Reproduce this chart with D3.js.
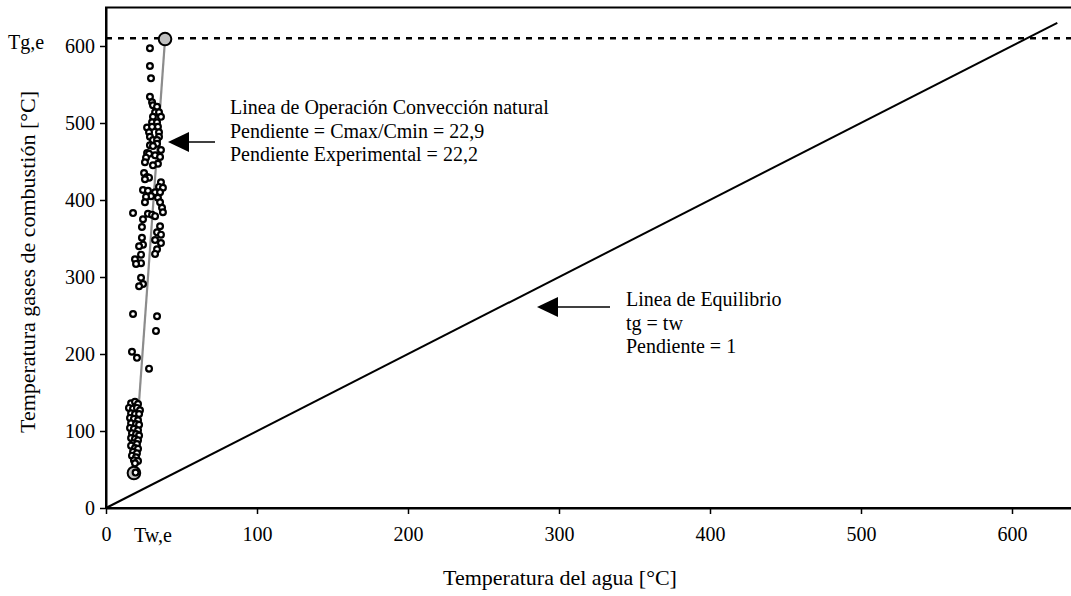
<!DOCTYPE html>
<html><head><meta charset="utf-8">
<script src="https://cdn.jsdelivr.net/npm/d3@7"></script>
<style>
body{margin:0;background:#fff;}
svg{display:block;}
svg text{font-family:"Liberation Serif","Times New Roman",serif !important;fill:#000;}
</style></head>
<body><svg id="c" width="1071" height="596"></svg>
<script>
// ---- data ----
const xTicks = [0,100,200,300,400,500,600];
const yTicks = [0,100,200,300,400,500,600];
const xTitle = "Temperatura del agua [°C]";
const yTitle = "Temperatura gases de combustión [°C]";
// measured points (tw, tg)
const measuredTw = [29.1,29.1,29.8,29.1,30.5,31.1,33.8,32.5,35.1,36.4,31.1,30.5,33.8,34.4,27.2,30.5,28.5,35.1,29.1,35.1,31.1,33.8,29.1,33.8,31.1,36.4,27.2,28.5,32.5,35.8,26.5,25.8,34.4,31.1,25.2,27.2,28.5,25.8,36.4,35.1,37.7,24.5,27.8,32.5,35.8,29.8,26.5,34.4,25.8,35.8,37.1,37.7,17.9,27.8,30.5,32.5,24.5,23.8,35.8,33.8,36.4,23.8,32.5,24.5,21.9,36.4,33.8,32.5,23.2,19.2,23.2,19.9,23.2,24.5,21.9,17.9,33.8,33.1,17.2,20.5,28.5,
16.6,19.2,21.2,15.2,17.9,20.5,22.5,16.6,19.2,21.9,15.9,18.5,21.2,16.6,19.9,21.9,15.9,18.5,21.2,17.2,19.9,21.9,16.6,19.2,21.2,17.9,20.5,16.6,19.2,21.2,17.9,20.5,17.2,19.9,18.5,21.2,19.2,19.6];
const measuredTg = [597,574,558,534,527,523,521,514,514,508,508,501,501,495,494,495,488,488,482,482,478,478,471,473,470,465,461,460,458,456,455,449,447,445,435,430,429,427,423,417,416,413,412,410,410,405,404,403,397,397,390,384,383,382,381,379,375,365,366,358,355,351,348,342,340,344,336,330,329,323,318,317,299,291,288,252,249,230,203,195,181,
136,138,135,130,129,130,127,123,122,122,117,116,114,110,109,108,104,103,101,97,96,94,91,90,88,84,83,81,78,77,73,71,68,66,62,61,58,46];
// operation line end points (tw, tg)
const opTw = [18.5, 39.1];
const opTg = [45.5, 609];
// equilibrium line
const eqTw = [0, 630];
const eqTg = [0, 630];
const tgeValue = 610;
const annotOp = ["Linea de Operación Convección natural","Pendiente = Cmax/Cmin = 22,9","Pendiente Experimental = 22,2"];
const annotEq = ["Linea de Equilibrio","tg = tw","Pendiente = 1"];

// ---- chart ----
const svg = d3.select("#c");
const x = d3.scaleLinear().domain([0,650]).range([106,1087.5]);
const y = d3.scaleLinear().domain([0,650]).range([508,7.5]);
const fs = 20;
const fsTitle = 22;

// frame
svg.append("rect").attr("x",x(0)).attr("y",y(650)).attr("width",x(650)-x(0)).attr("height",y(0)-y(650))
  .attr("fill","none").attr("stroke","#000").attr("stroke-width",2);

// axes
const ax = svg.append("g").attr("transform",`translate(0,${y(0)})`)
  .call(d3.axisBottom(x).tickValues(xTicks).tickSize(6).tickSizeOuter(0).tickPadding(13).tickFormat(d3.format("d")));
const ay = svg.append("g").attr("transform",`translate(${x(0)},0)`)
  .call(d3.axisLeft(y).tickValues(yTicks).tickSize(6).tickSizeOuter(0).tickPadding(5).tickFormat(d3.format("d")));
[ax,ay].forEach(g=>{
  g.attr("font-family",null).attr("font-size",null);
  g.select(".domain").attr("stroke","#000").attr("stroke-width",2);
  g.selectAll(".tick line").attr("stroke","#000").attr("stroke-width",1.5);
  g.selectAll(".tick text").attr("font-size",fs).attr("fill","#000");
});

// dashed Tg,e line
svg.append("line").attr("x1",x(0)).attr("x2",x(650)).attr("y1",y(tgeValue)).attr("y2",y(tgeValue))
  .attr("stroke","#000").attr("stroke-width",2.5).attr("stroke-dasharray","6,6");

// equilibrium line
svg.append("line").attr("x1",x(eqTw[0])).attr("y1",y(eqTg[0])).attr("x2",x(eqTw[1])).attr("y2",y(eqTg[1]))
  .attr("stroke","#000").attr("stroke-width",2);

// operation line
svg.append("line").attr("x1",x(opTw[0])).attr("y1",y(opTg[0])).attr("x2",x(opTw[1])).attr("y2",y(opTg[1]))
  .attr("stroke","#8c8c8c").attr("stroke-width",2.2);

// end circles
opTw.forEach((t,i)=>{
  svg.append("circle").attr("cx",x(t)).attr("cy",y(opTg[i])).attr("r",6.3)
    .attr("fill","#c0c0c0").attr("stroke","#000").attr("stroke-width",2);
});

// measured points
const pts = measuredTw.map((t,i)=>({t, g: measuredTg[i]}));
svg.append("g").selectAll("circle").data(pts).join("circle")
  .attr("cx",d=>x(d.t)).attr("cy",d=>y(d.g)).attr("r",2.9)
  .attr("fill","#fff").attr("stroke","#000").attr("stroke-width",2.2);

// arrows
function arrow(tipX, tipY, len){
  svg.append("path").attr("d",`M${tipX},${tipY} L${tipX+21},${tipY-10} L${tipX+21},${tipY+10} Z`).attr("fill","#000");
  svg.append("line").attr("x1",tipX+20).attr("x2",tipX+len).attr("y1",tipY).attr("y2",tipY).attr("stroke","#000").attr("stroke-width",1.5);
}
arrow(168, 142, 47);
arrow(537, 307, 73);

function textBlock(lines, tx, ty){
  const t = svg.append("text").attr("font-size",fs);
  lines.forEach((s,i)=>t.append("tspan").attr("x",tx).attr("y",ty+i*23.5).text(s));
}
textBlock(annotOp, 230, 114);
textBlock(annotEq, 626, 306);

// labels
svg.append("text").attr("x",8).attr("y",y(tgeValue)+11).attr("font-size",fs).text("Tg,e");
svg.append("text").attr("x",x(18.5)+19).attr("y",542).attr("text-anchor","middle").attr("font-size",fs).text("Tw,e");
svg.append("text").attr("x",560).attr("y",585).attr("text-anchor","middle").attr("font-size",fsTitle).text(xTitle);
svg.append("text").attr("transform","translate(35,262) rotate(-90)").attr("text-anchor","middle").attr("font-size",fsTitle).text(yTitle);
</script></body></html>
